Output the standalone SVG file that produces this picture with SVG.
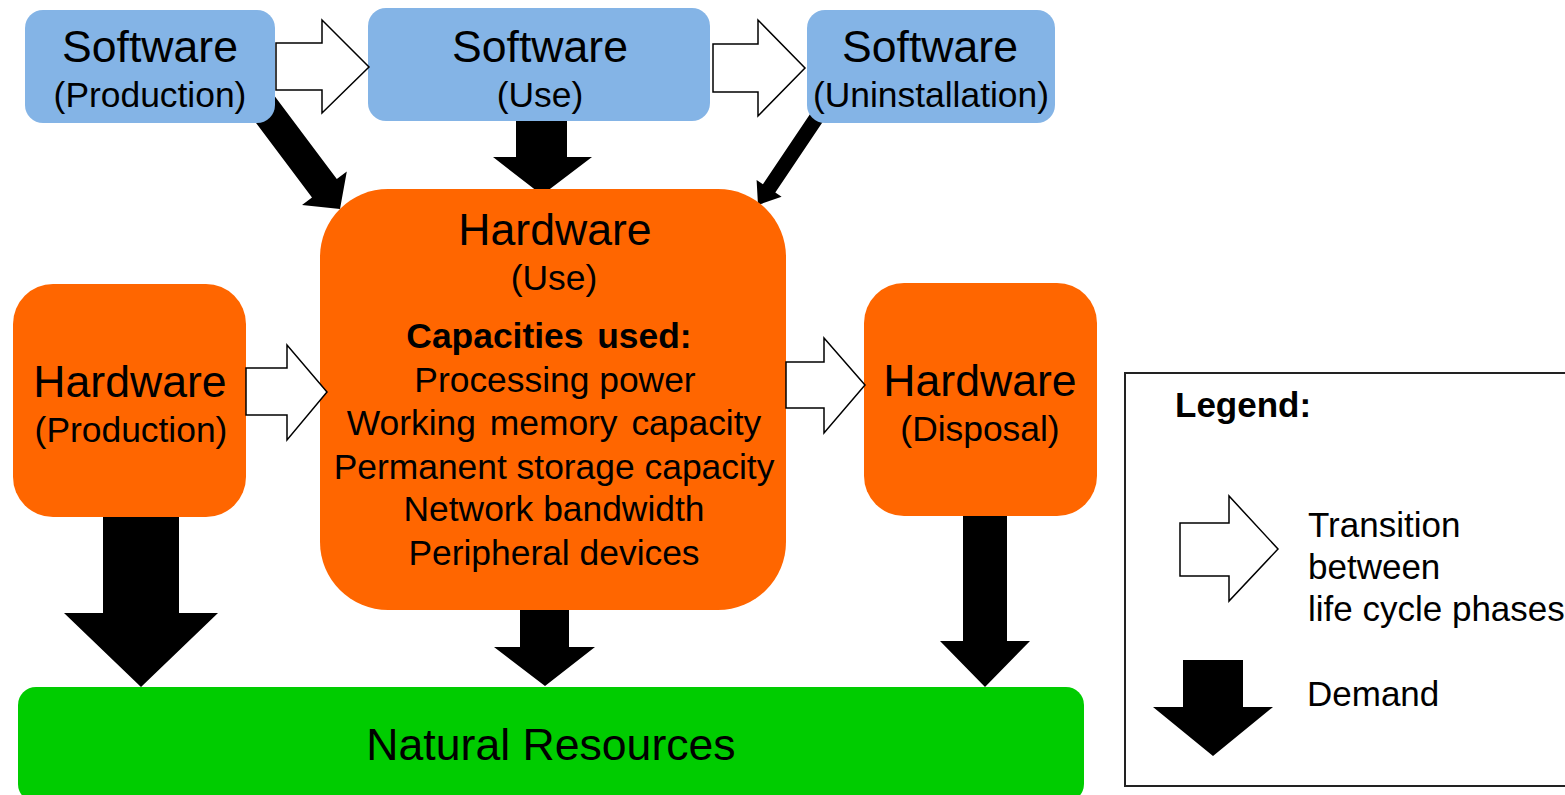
<svg xmlns="http://www.w3.org/2000/svg" width="1565" height="795" viewBox="0 0 1565 795">
<style>
text{font-family:"Liberation Sans",Arial,sans-serif;fill:#000;text-anchor:middle}
.t44{font-size:44.6px}
.t35{font-size:35.4px}
.b{font-weight:bold}
.sw{fill:#84B4E6}
.hw{fill:#FF6600}
.nr{fill:#00CC00}
.tr{fill:#fff;stroke:#000;stroke-width:1.5;stroke-linejoin:miter}
.dm{fill:#000}
</style>
<rect width="1565" height="795" fill="#fff"/>
<g id="connectors">
<polygon class="dm" points="265.4,83.7 336.8,178.9 346.8,171.4 340,209 302,205 312,197.5 240.6,102.3"/>
<polygon class="dm" points="516,110 567,110 567,157 592,157 542,195 493,157 516,157"/>
<polygon class="dm" points="825.5,117.8 775.3,192.6 781.6,196.8 758,205 756.6,180 762.9,184.2 813.1,109.4"/>
<polygon class="dm" points="103,510 179,510 179,613 218,613 141,687 64,613 103,613"/>
<polygon class="dm" points="520,600 569,600 569,647 595,647 545,686 494,647 520,647"/>
<polygon class="dm" points="963,510 1007,510 1007,641 1030,641 985,687 940,641 963,641"/>
</g>
<g id="sw-production"><rect class="sw" x="25" y="10" width="250" height="113" rx="18"/><text class="t44" x="150" y="62">Software</text><text class="t35" x="150" y="107">(Production)</text></g>
<g id="sw-use"><rect class="sw" x="368" y="8" width="342" height="113" rx="18"/><text class="t44" x="540" y="62">Software</text><text class="t35" x="540" y="107">(Use)</text></g>
<g id="sw-uninstall"><rect class="sw" x="807" y="10" width="248" height="113" rx="18"/><text class="t44" x="930" y="62">Software</text><text class="t35" x="931" y="107">(Uninstallation)</text></g>
<g id="hw-use"><rect class="hw" x="320" y="189" width="466" height="421" rx="68"/>
<text class="t44" x="555" y="245">Hardware</text>
<text class="t35" x="554" y="290">(Use)</text>
<text class="t35 b" x="549" y="348" style="word-spacing:4px">Capacities used:</text>
<text class="t35" x="555" y="392">Processing power</text>
<text class="t35" x="554" y="435" style="word-spacing:4px">Working memory capacity</text>
<text class="t35" x="554" y="479">Permanent storage capacity</text>
<text class="t35" x="554" y="521">Network bandwidth</text>
<text class="t35" x="554" y="565">Peripheral devices</text>
</g>
<g id="hw-production"><rect class="hw" x="13" y="284" width="233" height="233" rx="40"/><text class="t44" x="130" y="397">Hardware</text><text class="t35" x="131" y="442">(Production)</text></g>
<g id="hw-disposal"><rect class="hw" x="864" y="283" width="233" height="233" rx="40"/><text class="t44" x="980" y="396">Hardware</text><text class="t35" x="980" y="441">(Disposal)</text></g>
<g id="natural-resources"><rect class="nr" x="18" y="687" width="1066" height="115" rx="18"/><text class="t44" x="551" y="760">Natural Resources</text></g>
<g id="transitions">
<polygon class="tr" points="276,43 322,43 322,20 369,67 322,113 322,90 276,90"/>
<polygon class="tr" points="713,44 758,44 758,20 805,68 758,116 758,92 713,92"/>
<polygon class="tr" points="246,368 287,368 287,345 327,392 287,440 287,415 246,415"/>
<polygon class="tr" points="786,362 824,362 824,338 865,385 824,433 824,408 786,408"/>
</g>
<g id="legend">
<rect x="1125" y="373" width="450" height="413" fill="#fff" stroke="#222" stroke-width="2"/>
<text class="b" x="1175" y="417" style="text-anchor:start;font-size:35px">Legend:</text>
<polygon class="tr" points="1180,523 1229,523 1229,496 1278,549 1229,601 1229,576 1180,576"/>
<text x="1308" y="537" style="text-anchor:start;font-size:35px">Transition</text>
<text x="1308" y="579" style="text-anchor:start;font-size:35px">between</text>
<text x="1308" y="621" style="text-anchor:start;font-size:35px">life cycle phases</text>
<polygon class="dm" points="1183,660 1243,660 1243,707 1273,707 1213,756 1153,707 1183,707"/>
<text x="1307" y="706" style="text-anchor:start;font-size:35px">Demand</text>
</g>
</svg>
